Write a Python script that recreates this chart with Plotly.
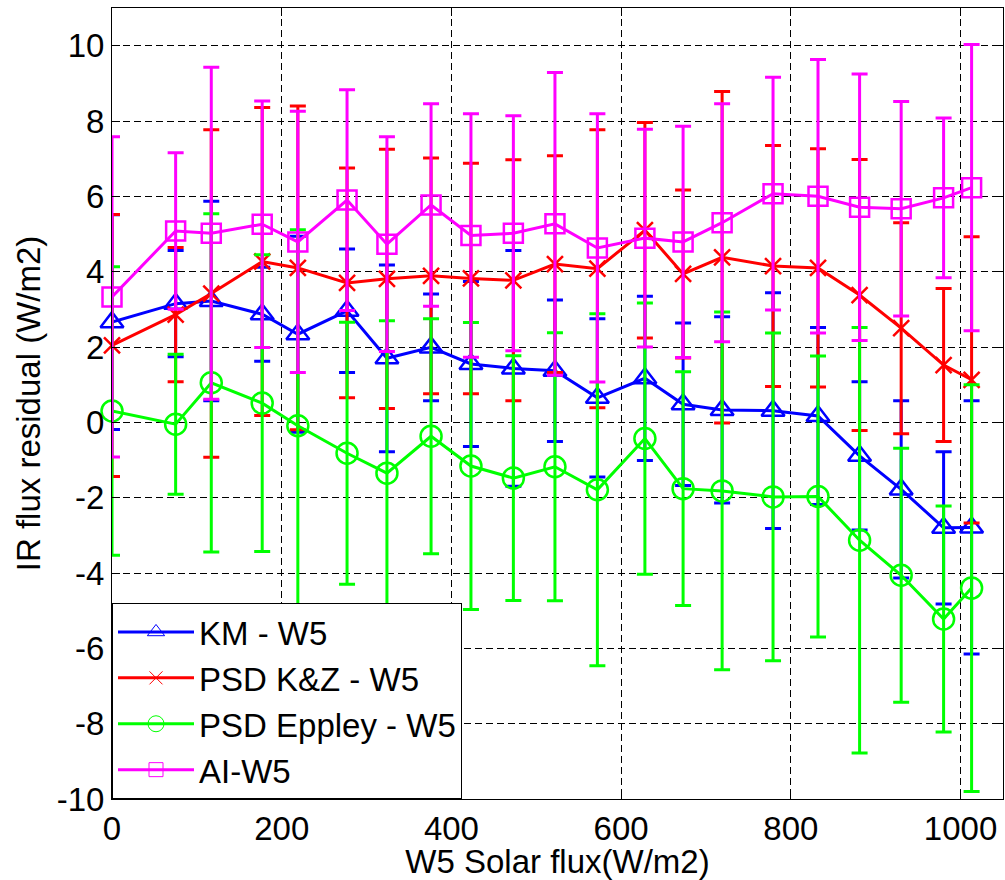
import plotly.graph_objects as go

# Solar flux bins (W/m2)
solar_flux = [0, 75, 117, 177, 219, 277, 324, 376, 423, 473, 522, 572, 628, 673, 719, 779, 832, 881, 930, 980, 1013]

# KM - W5
km = [2.66, 3.15, 3.22, 2.87, 2.34, 2.96, 1.70, 1.99, 1.55, 1.43, 1.37, 0.65, 1.17, 0.48, 0.33, 0.31, 0.17, -0.89, -1.78, -2.80, -2.79]
km_err = [2.85, 1.41, 2.65, 1.25, 2.60, 1.64, 2.48, 1.42, 2.19, 3.13, 1.88, 2.10, 2.18, 2.16, 2.47, 3.13, 2.35, 1.97, 2.35, 2.02, 3.36]

# PSD K&Z - W5
kz = [2.04, 2.86, 3.42, 4.27, 4.10, 3.70, 3.81, 3.89, 3.82, 3.77, 4.20, 4.08, 5.10, 3.94, 4.38, 4.15, 4.10, 3.38, 2.50, 1.52, 1.13]
kz_err = [3.48, 1.78, 4.35, 4.09, 4.30, 3.05, 3.44, 3.13, 3.06, 3.20, 2.88, 3.69, 2.86, 2.23, 4.40, 3.20, 3.16, 3.60, 2.80, 2.03, 3.80]

# PSD Eppley - W5
ep = [0.30, -0.05, 1.05, 0.51, -0.09, -0.82, -1.35, -0.37, -1.16, -1.48, -1.18, -1.79, -0.43, -1.76, -1.82, -1.98, -1.97, -3.13, -4.06, -5.22, -4.40]
ep_err = [3.83, 1.86, 4.49, 3.94, 5.20, 3.48, 4.05, 3.12, 3.81, 3.25, 3.56, 4.67, 3.60, 3.10, 4.75, 4.35, 3.73, 5.65, 3.37, 3.00, 5.40]

# AI-W5
ai = [3.33, 5.08, 5.02, 5.26, 4.79, 5.90, 4.73, 5.77, 4.96, 5.02, 5.27, 4.63, 4.89, 4.79, 5.30, 6.07, 6.00, 5.71, 5.67, 5.96, 6.23]
ai_err = [4.25, 2.08, 4.41, 3.27, 3.47, 2.93, 2.85, 2.69, 3.23, 3.12, 4.02, 3.56, 2.89, 3.07, 3.16, 3.09, 3.63, 3.54, 2.85, 2.12, 3.80]

x_ticks = [0, 200, 400, 600, 800, 1000]
y_ticks = [-10, -8, -6, -4, -2, 0, 2, 4, 6, 8, 10]
y_ticklabels = ["-10", "-8", "-6", "-4", "-2", "0", "2", "4", "6", "8", "10"]

series = [
    ("KM - W5", km, km_err, "#0000FF", "triangle-up-open", 20, 15),
    ("PSD K&Z - W5", kz, kz_err, "#FF0000", "x-thin-open", 16, 13),
    ("PSD Eppley - W5", ep, ep_err, "#00FF00", "circle-open", 21, 16),
    ("AI-W5", ai, ai_err, "#FF00FF", "square-open", 19, 14),
]

FONT = "Arial, Liberation Sans, Helvetica, sans-serif"

fig = go.Figure()
for name, y, err, color, sym, size, lsize in series:
    fig.add_trace(go.Scatter(
        x=solar_flux, y=y, name=name, mode="lines+markers",
        line=dict(color=color, width=3),
        marker=dict(symbol=sym, size=size, color=color, line=dict(color=color, width=2.5)),
        error_y=dict(type="data", array=err, visible=True, color=color, thickness=3, width=8),
        cliponaxis=False, showlegend=False, legendgroup=name,
    ))
# legend entries (thin markers like the original legend)
for name, y, err, color, sym, size, lsize in series:
    fig.add_trace(go.Scatter(
        x=[None], y=[None], name=name, mode="lines+markers",
        line=dict(color=color, width=3),
        marker=dict(symbol=sym, size=lsize, color=color, line=dict(color=color, width=1)),
        showlegend=True, legendgroup=name,
    ))

axis_common = dict(
    showline=True, linecolor="black", linewidth=1, mirror="ticks",
    ticks="inside", ticklen=8, tickcolor="black", tickwidth=1,
    showgrid=True, gridcolor="black", gridwidth=1, griddash="7px,4px",
    zeroline=False,
    tickfont=dict(family=FONT, size=33, color="black"),
)

fig.update_xaxes(range=[0, 1050], tickvals=x_ticks, ticktext=[str(v) for v in x_ticks],
                 title=dict(text="W5 Solar flux(W/m2)", font=dict(family=FONT, size=33, color="black"), standoff=6),
                 **axis_common)
fig.update_yaxes(range=[-10, 11], tickvals=y_ticks, ticktext=y_ticklabels,
                 title=dict(text="IR flux residual (W/m2)", font=dict(family=FONT, size=33, color="black"), standoff=6),
                 **axis_common)

fig.update_layout(
    width=1005, height=880,
    margin=dict(l=112, r=2, t=8, b=81, autoexpand=False),
    plot_bgcolor="white", paper_bgcolor="white",
    font=dict(family=FONT, color="black"),
    legend=dict(x=0, y=0, xanchor="left", yanchor="bottom",
                bgcolor="white", bordercolor="black", borderwidth=1,
                font=dict(family=FONT, size=33, color="black"),
                itemwidth=76, tracegroupgap=0, itemsizing="trace"),
    showlegend=True,
)

fig.write_html("out.html")
